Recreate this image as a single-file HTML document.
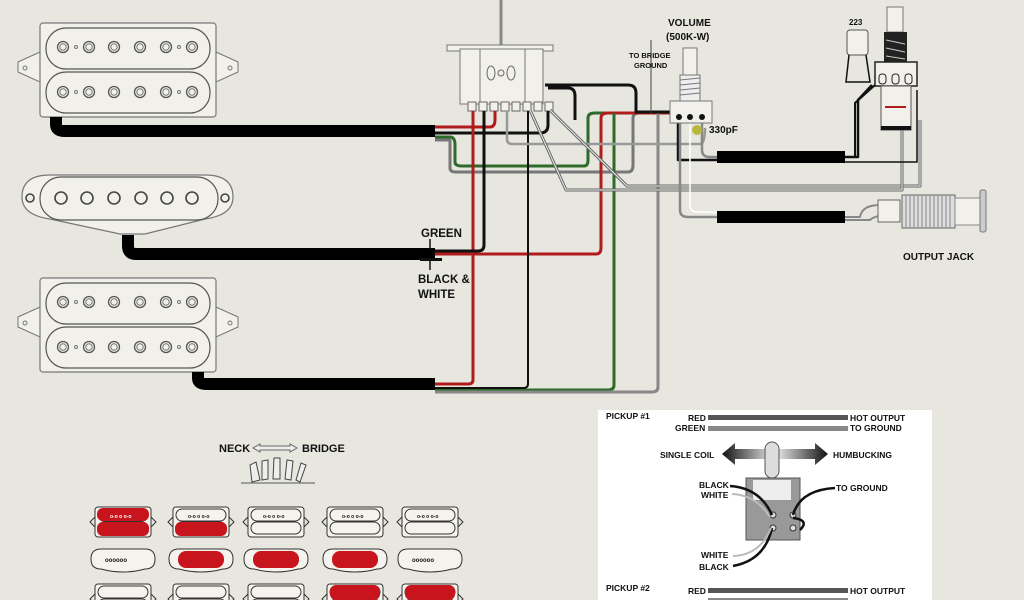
<!DOCTYPE html>
<html><head><meta charset="utf-8"><style>
html,body{margin:0;padding:0;background:#e7e6df;}
svg{display:block;}
text{font-family:"Liberation Sans",sans-serif;font-weight:bold;fill:#111;}
</style></head><body>
<svg width="1024" height="600" viewBox="0 0 1024 600" xmlns="http://www.w3.org/2000/svg">
<defs>
  <g id="pole"><circle r="5.5" fill="none" stroke="#555" stroke-width="1.3"/><circle r="3.2" fill="none" stroke="#777" stroke-width="1"/></g>
  <g id="hb">
    <path d="M40 52 L18 62 L18 72 L40 82 Z M216 52 L238 62 L238 72 L216 82 Z" fill="#f1f0ea" stroke="#777" stroke-width="1"/>
    <circle cx="25" cy="68" r="2" fill="none" stroke="#777"/><circle cx="230" cy="68" r="2" fill="none" stroke="#777"/>
    <rect x="40" y="23" width="176" height="94" rx="3" fill="#f1f0ea" stroke="#777" stroke-width="1.2"/>
    <rect x="46" y="28" width="164" height="41" rx="20" fill="#f1f0ea" stroke="#555" stroke-width="1.2"/>
    <rect x="46" y="72" width="164" height="41" rx="20" fill="#f1f0ea" stroke="#555" stroke-width="1.2"/>
    <use href="#pole" x="63" y="47"/><use href="#pole" x="89" y="47"/><use href="#pole" x="114" y="47"/><use href="#pole" x="140" y="47"/><use href="#pole" x="166" y="47"/><use href="#pole" x="192" y="47"/>
    <use href="#pole" x="63" y="92"/><use href="#pole" x="89" y="92"/><use href="#pole" x="114" y="92"/><use href="#pole" x="140" y="92"/><use href="#pole" x="166" y="92"/><use href="#pole" x="192" y="92"/>
    <g fill="none" stroke="#777"><circle cx="76" cy="47" r="1.5"/><circle cx="179" cy="47" r="1.5"/><circle cx="76" cy="92" r="1.5"/><circle cx="179" cy="92" r="1.5"/></g>
  </g>
  <g id="mh"><rect x="-28" y="0" width="56" height="30" rx="3" fill="#f4f3ee" stroke="#333"/><path d="M-28 10 l-5 5 l5 5 M28 10 l5 5 l-5 5" fill="none" stroke="#333"/>
    <rect x="-25" y="2" width="50" height="12" rx="6" fill="none" stroke="#333"/><rect x="-25" y="15" width="50" height="12" rx="6" fill="none" stroke="#333"/></g>
  <g id="ms"><path d="M-32 10 Q-32 0 -22 0 H22 Q32 0 32 10 Q32 20 22 20 Q0 26 -22 20 Q-32 20 -32 10 Z" fill="#f4f3ee" stroke="#333"/></g>
</defs>

<use href="#hb"/>
<use href="#hb" transform="translate(0,255)"/>
<path d="M22 197 Q22 175 50 175 H205 Q233 175 233 197 Q233 215 205 219 L145 234 H120 L50 219 Q22 215 22 197 Z" fill="#f1f0ea" stroke="#777" stroke-width="1.2"/>
<rect x="40" y="177" width="178" height="43" rx="21" fill="#f1f0ea" stroke="#555" stroke-width="1.2"/>
<g fill="none" stroke="#444" stroke-width="1.6">
<circle cx="61" cy="198" r="6"/><circle cx="87" cy="198" r="6"/><circle cx="114" cy="198" r="6"/><circle cx="141" cy="198" r="6"/><circle cx="167" cy="198" r="6"/><circle cx="192" cy="198" r="6"/>
<circle cx="30" cy="198" r="4"/><circle cx="225" cy="198" r="4"/></g>

<g fill="none" stroke="#000" stroke-width="12" stroke-linejoin="round">
<path d="M56 117 V124 Q56 131 64 131 H435"/>
<path d="M128 235 V246 Q128 254 136 254 H435"/>
<path d="M198 372 V378 Q198 384 206 384 H435"/>
<path d="M717 157 H845 M717 217 H845"/>
</g>

<line x1="501" y1="0" x2="501" y2="45" stroke="#888" stroke-width="3"/>
<rect x="447" y="45" width="106" height="6" fill="#f1f0ea" stroke="#777"/>
<rect x="460" y="49" width="83" height="55" fill="#f1f0ea" stroke="#777"/>
<rect x="480" y="49" width="45" height="55" fill="#f1f0ea" stroke="#777"/>
<ellipse cx="491" cy="73" rx="4" ry="7" fill="none" stroke="#666"/><ellipse cx="511" cy="73" rx="4" ry="7" fill="none" stroke="#666"/><circle cx="501" cy="73" r="3" fill="none" stroke="#666"/>
<g fill="#f1f0ea" stroke="#666"><rect x="468" y="102" width="8" height="9"/><rect x="479" y="102" width="8" height="9"/><rect x="490" y="102" width="8" height="9"/><rect x="501" y="102" width="8" height="9"/><rect x="512" y="102" width="8" height="9"/><rect x="523" y="102" width="8" height="9"/><rect x="534" y="102" width="8" height="9"/><rect x="545" y="102" width="8" height="9"/></g>

<g fill="none" stroke-width="3" stroke-linejoin="round">
<path d="M435 127 H490 Q495 127 495 120 V111" stroke="#b01c1c"/>
<path d="M435 133 H540 Q548 133 548 125 V111" stroke="#111"/>
<path d="M435 137 H450 Q455 137 455 145 V162 Q455 166 462 166 H584 Q588 166 588 160 V118 Q588 113 595 113 H606" stroke="#2e6b2a"/>
<path d="M435 140 H450 V168 Q450 172 456 172 H628 Q633 172 633 165 V118 Q633 113 640 113 H660" stroke="#777"/>
<path d="M473 111 V380 Q473 384 468 384 H435" stroke="#b01c1c"/>
<path d="M484 111 V245 Q484 251 478 251 H435" stroke="#111"/>
<path d="M435 254 H596 Q601 254 601 248 V118 Q601 113 608 113 H678" stroke="#b01c1c"/>
<path d="M614 113 V385 Q614 390 608 390 H435" stroke="#2e6b2a"/>
<path d="M528 111 V384 Q528 388 523 388 H435" stroke="#111" stroke-width="2"/>
<path d="M658 113 V387 Q658 392 652 392 H435" stroke="#888"/>
<path d="M507 111 V139 Q507 144 512 144 H700 Q705 144 705 128" stroke="#999" stroke-width="2.5"/>
<path d="M550 110 L627 186 H920 V120" stroke="#666" stroke-width="3"/>
<path d="M550 110 L627 186 H920 V120" stroke="#eee" stroke-width="1"/>
<path d="M530 110 L566 190 H902 V120" stroke="#666" stroke-width="3"/>
<path d="M530 110 L566 190 H902 V120" stroke="#eee" stroke-width="1"/>
<path d="M548 88 H568 Q575 88 575 96 V120" stroke="#111"/>
<path d="M545 85 H628 Q636 85 636 93 V112 H672" stroke="#111"/>
<path d="M678 118 V160 H717" stroke="#111" stroke-width="2.5"/>
<path d="M702 120 V150 Q702 157 710 157 H717" stroke="#888" stroke-width="2.5"/>
<path d="M680 120 V210 Q680 217 688 217 H717" stroke="#888" stroke-width="2.5"/>
<path d="M690 120 V205 Q690 212 698 212 H717" stroke="#fff" stroke-width="1.5"/>
<path d="M845 157 H858 V100 L872 85" stroke="#111" stroke-width="2.5"/>
<path d="M845 162 H917 V90" stroke="#111" stroke-width="1.5"/>
<path d="M845 217 H860 Q862 205 880 205 H890" stroke="#888" stroke-width="2"/>
<path d="M845 220 H870 Q875 215 890 215" stroke="#888" stroke-width="2"/>
</g>
<line x1="651" y1="40" x2="651" y2="113" stroke="#444" stroke-width="1"/>
<line x1="430" y1="239" x2="430" y2="250" stroke="#111" stroke-width="1.5"/>
<rect x="420" y="258" width="22" height="3" fill="#111"/><line x1="430" y1="260" x2="430" y2="270" stroke="#111" stroke-width="1.5"/>

<rect x="683" y="48" width="14" height="27" fill="#f1f0ea" stroke="#777"/>
<rect x="680" y="75" width="20" height="26" fill="#eee" stroke="#777"/>
<g stroke="#777"><line x1="680" y1="80" x2="700" y2="78"/><line x1="680" y1="85" x2="700" y2="83"/><line x1="680" y1="90" x2="700" y2="88"/><line x1="680" y1="95" x2="700" y2="93"/></g>
<rect x="670" y="101" width="42" height="22" fill="#f1f0ea" stroke="#777"/>
<circle cx="679" cy="117" r="3" fill="#111"/><circle cx="690" cy="117" r="3" fill="#111"/><circle cx="702" cy="117" r="3" fill="#111"/>
<circle cx="697" cy="130" r="5" fill="#b9b83a"/>
<text x="668" y="26" font-size="10">VOLUME</text>
<text x="666" y="40" font-size="10">(500K-W)</text>
<text x="629" y="58" font-size="7.5">TO BRIDGE</text>
<text x="634" y="68" font-size="7.5">GROUND</text>
<text x="709" y="133" font-size="10">330pF</text>

<text x="849" y="25" font-size="8" font-weight="normal">223</text>
<rect x="847" y="30" width="21" height="25" rx="3" fill="#f1f0ea" stroke="#555"/>
<path d="M849 55 L846 82 H870 L866 55" fill="none" stroke="#111" stroke-width="1.5"/>
<rect x="887" y="7" width="16" height="25" fill="#f1f0ea" stroke="#777"/>
<rect x="884" y="32" width="23" height="30" fill="#222"/>
<g stroke="#ccc"><line x1="886" y1="40" x2="905" y2="44"/><line x1="886" y1="48" x2="905" y2="52"/><line x1="886" y1="56" x2="905" y2="59"/></g>
<rect x="875" y="62" width="42" height="24" fill="#f1f0ea" stroke="#222" stroke-width="1.5"/>
<g fill="#f1f0ea" stroke="#222"><rect x="879" y="74" width="7" height="10" rx="3"/><rect x="892" y="74" width="7" height="10" rx="3"/><rect x="905" y="74" width="7" height="10" rx="3"/></g>
<rect x="881" y="86" width="30" height="44" fill="#f1f0ea" stroke="#555"/>
<rect x="881" y="126" width="30" height="4" fill="#111"/>
<line x1="885" y1="107" x2="906" y2="107" stroke="#b01c1c" stroke-width="2"/>
<path d="M845 157 H855 V103 L875 85" fill="none" stroke="#111" stroke-width="2"/>

<rect x="878" y="200" width="22" height="22" fill="#f1f0ea" stroke="#666"/>
<rect x="902" y="195" width="53" height="33" fill="#ddd" stroke="#666"/>
<g stroke="#888">
<line x1="906" y1="195" x2="906" y2="228"/><line x1="910" y1="195" x2="910" y2="228"/><line x1="914" y1="195" x2="914" y2="228"/><line x1="918" y1="195" x2="918" y2="228"/><line x1="922" y1="195" x2="922" y2="228"/><line x1="926" y1="195" x2="926" y2="228"/><line x1="930" y1="195" x2="930" y2="228"/><line x1="934" y1="195" x2="934" y2="228"/><line x1="938" y1="195" x2="938" y2="228"/><line x1="942" y1="195" x2="942" y2="228"/><line x1="946" y1="195" x2="946" y2="228"/><line x1="950" y1="195" x2="950" y2="228"/></g>
<rect x="955" y="198" width="25" height="27" fill="#f1f0ea" stroke="#888"/>
<rect x="980" y="190" width="6" height="42" rx="2" fill="#ccc" stroke="#777"/>
<text x="903" y="260" font-size="10">OUTPUT JACK</text>

<text x="421" y="237" font-size="11.5">GREEN</text>
<text x="418" y="283" font-size="11.5">BLACK &amp;</text>
<text x="418" y="298" font-size="11.5">WHITE</text>

<text x="219" y="452" font-size="11">NECK</text>
<path d="M253 448 L260 444 V446 H290 V444 L297 448 L290 452 V450 H260 V452 Z" fill="#eee" stroke="#666"/>
<text x="302" y="452" font-size="11">BRIDGE</text>
<line x1="241" y1="483" x2="315" y2="483" stroke="#555"/>
<g fill="#eee" stroke="#444">
<path d="M252 482 L250 465 L256 462 L260 480 Z"/><path d="M262 480 L262 461 L268 460 L268 479 Z"/><path d="M273 479 L274 458 L280 458 L280 479 Z"/><path d="M285 479 L287 460 L293 461 L291 480 Z"/><path d="M296 480 L301 463 L306 465 L300 482 Z"/>
</g>
<use href="#mh" transform="translate(123,507)"/><use href="#mh" transform="translate(201,507)"/><use href="#mh" transform="translate(276,507)"/><use href="#mh" transform="translate(355,507)"/><use href="#mh" transform="translate(430,507)"/>
<rect x="97" y="508" width="52" height="13" rx="6" fill="#c8141c"/><rect x="97" y="522" width="52" height="14" rx="6" fill="#c8141c"/>
<rect x="175" y="522" width="52" height="14" rx="6" fill="#c8141c"/>
<g font-size="5"><text x="110" y="518" style="fill:#fff">o-o o o-o</text><text x="188" y="518">o-o o o-o</text><text x="263" y="518">o-o o o-o</text><text x="342" y="518">o-o o o-o</text><text x="417" y="518">o-o o o-o</text></g>
<use href="#ms" transform="translate(123,549)"/><use href="#ms" transform="translate(201,549)"/><use href="#ms" transform="translate(276,549)"/><use href="#ms" transform="translate(355,549)"/><use href="#ms" transform="translate(430,549)"/>
<g font-size="6"><text x="105" y="562">oooooo</text><text x="412" y="562">oooooo</text></g>
<rect x="178" y="551" width="46" height="17" rx="8" fill="#c8141c"/><rect x="253" y="551" width="46" height="17" rx="8" fill="#c8141c"/><rect x="332" y="551" width="46" height="17" rx="8" fill="#c8141c"/>
<use href="#mh" transform="translate(123,584)"/><use href="#mh" transform="translate(201,584)"/><use href="#mh" transform="translate(276,584)"/><use href="#mh" transform="translate(355,584)"/><use href="#mh" transform="translate(430,584)"/>
<rect x="330" y="585" width="50" height="15" rx="6" fill="#c8141c"/><rect x="405" y="585" width="50" height="15" rx="6" fill="#c8141c"/>

<rect x="598" y="410" width="334" height="190" fill="#fff"/>
<g font-size="8.5">
<text x="606" y="419">PICKUP #1</text>
<text x="688" y="421">RED</text><text x="675" y="431">GREEN</text>
<text x="850" y="421">HOT OUTPUT</text><text x="850" y="431">TO GROUND</text>
<text x="660" y="458">SINGLE COIL</text><text x="833" y="458">HUMBUCKING</text>
<text x="699" y="488">BLACK</text><text x="701" y="498">WHITE</text>
<text x="836" y="491">TO GROUND</text>
<text x="701" y="558">WHITE</text><text x="699" y="570">BLACK</text>
<text x="606" y="591">PICKUP #2</text>
<text x="688" y="594">RED</text><text x="850" y="594">HOT OUTPUT</text>
</g>
<rect x="708" y="415" width="140" height="5" fill="#555"/><rect x="708" y="426" width="140" height="5" fill="#888"/>
<rect x="708" y="588" width="140" height="5" fill="#555"/><rect x="708" y="598" width="140" height="3" fill="#888"/>
<defs><linearGradient id="ar" x1="0" x2="1"><stop offset="0" stop-color="#111"/><stop offset="0.5" stop-color="#eee"/><stop offset="1" stop-color="#111"/></linearGradient></defs>
<path d="M722 454 L735 443 V449 H815 V443 L828 454 L815 465 V459 H735 V465 Z" fill="url(#ar)"/>
<rect x="765" y="442" width="14" height="36" rx="7" fill="#ddd" stroke="#555"/>
<rect x="746" y="478" width="54" height="62" fill="#999" stroke="#555"/>
<rect x="753" y="480" width="38" height="20" fill="#eee"/>
<g fill="#ddd" stroke="#333"><circle cx="773" cy="515" r="3"/><circle cx="793" cy="515" r="3"/><circle cx="773" cy="528" r="3"/><circle cx="793" cy="528" r="3"/></g>
<g fill="none" stroke="#111" stroke-width="2.5"><path d="M730 486 Q760 488 772 515"/><path d="M835 488 Q800 490 793 515"/><path d="M772 528 Q765 560 733 566"/><path d="M793 518 Q810 520 800 530"/></g>
<g fill="none" stroke="#bbb" stroke-width="2"><path d="M732 494 Q756 495 770 517"/><path d="M771 528 Q760 555 733 556"/></g>
</svg>
</body></html>
